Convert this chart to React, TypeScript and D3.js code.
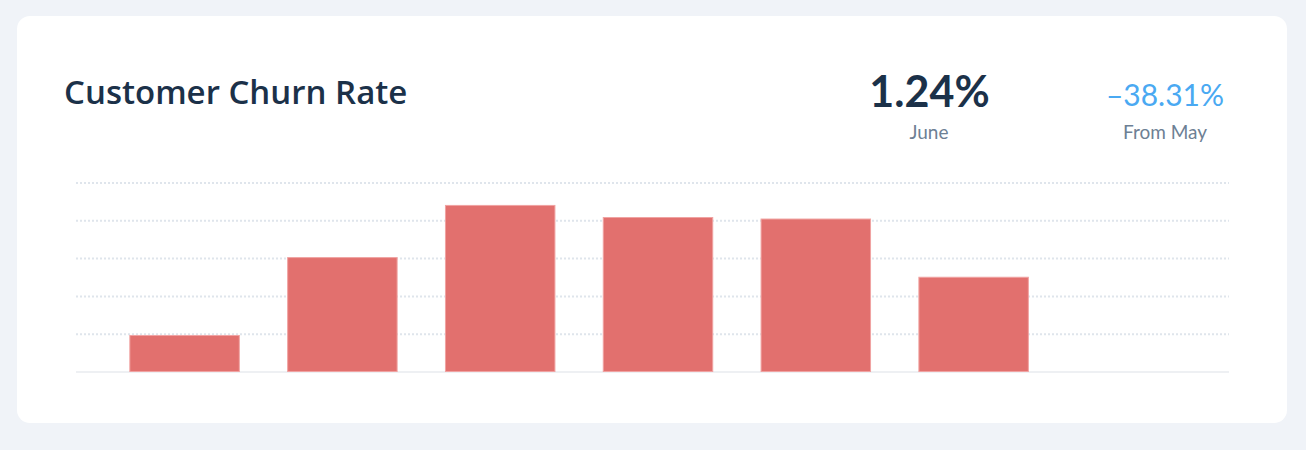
import * as d3 from 'd3'
import React, { useRef, useEffect } from 'react'

const months = ['Jan', 'Feb', 'Mar', 'Apr', 'May', 'Jun', 'Jul']
const churn = [0.49, 1.52, 2.21, 2.05, 2.03, 1.26]
const gridTicks = [0, 0.5, 1, 1.5, 2, 2.5]

const title = 'Customer Churn Rate'
const current = '1.24%'
const currentLabel = 'June'
const change = '–38.31%'
const changeLabel = 'From May'

const W = 1306
const H = 450
const FONT = "Lato, 'Open Sans', sans-serif"

export default function App() {
  const svgRef = useRef(null)

  function renderChart() {
    const svg = d3.select(svgRef.current)
    svg.selectAll('*').remove()
    svg.attr('width', W).attr('height', H)

    svg.append('rect').attr('width', W).attr('height', H).attr('fill', '#f0f3f8')
    svg
      .append('rect')
      .attr('x', 17)
      .attr('y', 16)
      .attr('width', 1270)
      .attr('height', 407)
      .attr('rx', 13)
      .attr('fill', '#ffffff')

    const x = d3.scaleBand().domain(months).range([82, 1234]).padding(0.3)
    const y = d3.scaleLinear().domain([0, 2.5]).range([372, 183])

    // grid
    svg
      .append('g')
      .selectAll('line')
      .data(gridTicks)
      .join('line')
      .attr('x1', 76)
      .attr('x2', 1229)
      .attr('y1', (d) => y(d))
      .attr('y2', (d) => y(d))
      .attr('stroke', (d) => (d === 0 ? '#eef0f3' : '#dfe5ec'))
      .attr('stroke-width', 2)
      .attr('stroke-dasharray', (d) => (d === 0 ? null : '2 2'))

    svg
      .append('g')
      .selectAll('rect')
      .data(churn)
      .join('rect')
      .attr('x', (d, i) => x(months[i])! + 0.5)
      .attr('y', (d) => y(d) + 0.5)
      .attr('width', x.bandwidth() - 1)
      .attr('height', (d) => y(0) - y(d) - 1)
      .attr('fill', '#e2706e')
      .attr('stroke', '#f0a3a2')
      .attr('stroke-width', 1)

    svg
      .append('text')
      .text(title)
      .attr('x', 64)
      .attr('y', 104)
      .attr('font-family', "'Open Sans', sans-serif")
      .attr('font-size', 33)
      .attr('font-weight', 600)
      .attr('fill', '#1b3149')

    svg
      .append('text')
      .text(current)
      .attr('x', 929.5)
      .attr('y', 106.5)
      .attr('text-anchor', 'middle')
      .attr('font-family', FONT)
      .attr('font-size', 43)
      .attr('font-weight', 700)
      .attr('fill', '#1b3149')

    svg
      .append('text')
      .text(currentLabel)
      .attr('x', 929)
      .attr('y', 139)
      .attr('text-anchor', 'middle')
      .attr('font-family', FONT)
      .attr('font-size', 19)
      .attr('fill', '#6d8094')

    svg
      .append('text')
      .text(change)
      .attr('x', 1165)
      .attr('y', 106)
      .attr('text-anchor', 'middle')
      .attr('font-family', FONT)
      .attr('font-size', 30)
      .attr('fill', '#4aa9f2')

    svg
      .append('text')
      .text(changeLabel)
      .attr('x', 1165)
      .attr('y', 139)
      .attr('text-anchor', 'middle')
      .attr('font-family', FONT)
      .attr('font-size', 19)
      .attr('fill', '#6d8094')
  }

  useEffect(() => {
    renderChart()
  }, [])

  return (
    <div style={{ position: 'fixed', left: 0, top: 0 }}>
      <svg ref={svgRef} style={{ display: 'block' }} />
    </div>
  )
}
